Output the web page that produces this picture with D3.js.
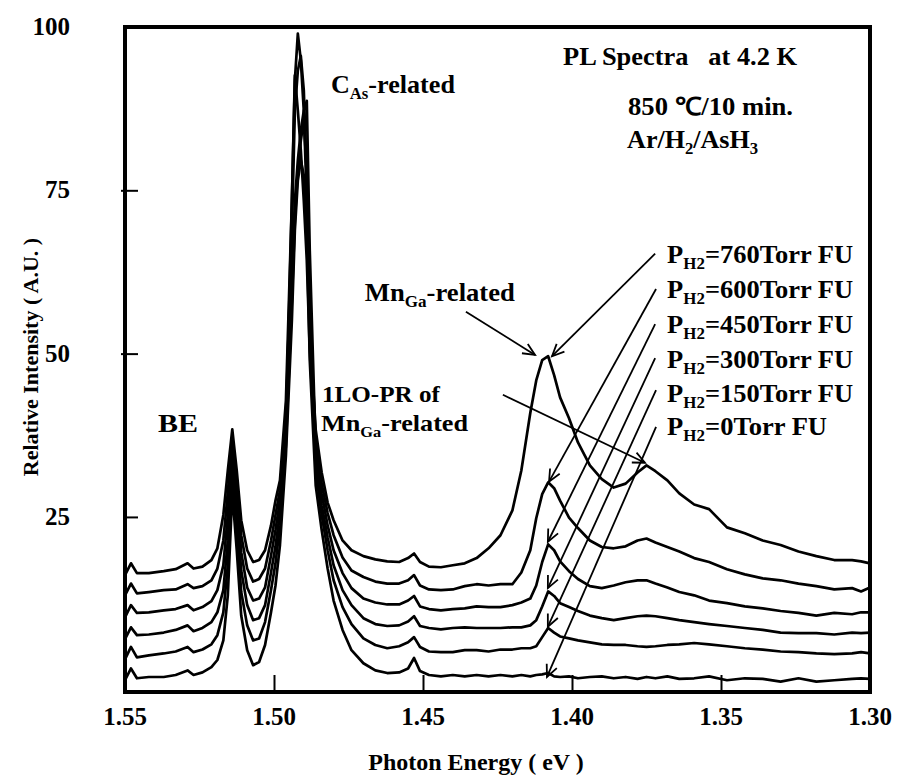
<!DOCTYPE html>
<html><head><meta charset="utf-8">
<script src="https://cdn.jsdelivr.net/npm/d3@7"></script>
<style>
body{margin:0;background:#fff}
text{font-family:"Liberation Serif","Times New Roman",serif;font-weight:bold;fill:#000}
</style>
</head><body>
<svg id="chart" width="897" height="778"></svg>
<script>
// Photon energy grid (eV)
const energy = [
 1.550,1.548,1.546,1.542,1.537,1.533,1.529,1.527,1.524,1.521,
 1.519,1.517,1.5155,1.514,1.5125,1.511,1.509,1.507,1.505,1.503,
 1.501,1.4995,1.498,1.496,1.494,1.493,1.492,1.491,1.490,1.489,
 1.488,1.486,1.484,1.482,1.480,1.477,1.474,1.470,1.466,1.462,
 1.458,1.455,1.453,1.451,1.448,1.444,1.440,1.436,1.432,1.428,
 1.424,1.420,1.417,1.414,1.412,1.410,1.408,1.406,1.404,1.401,
 1.398,1.394,1.390,1.386,1.382,1.378,1.375,1.372,1.368,1.364,
 1.359,1.354,1.348,1.342,1.336,1.330,1.324,1.318,1.312,1.306,
 1.303,1.300];

// Relative intensity of each spectrum (offset curves)
const int760 = [
 16.1,17.9,16.4,16.4,16.7,17.0,17.9,17.1,17.4,18.4,
 20.2,25.3,32.1,38.4,32.1,24.5,19.9,18.1,18.4,19.9,
 23.7,27.5,30.6,42.8,73.4,91.8,99.0,94.9,87.2,73.4,
 53.6,38.3,31.8,27.2,24.5,21.4,19.9,19.0,18.5,18.2,
 18.1,18.7,19.4,18.1,17.4,17.3,17.6,17.9,18.7,20.2,
 22.2,26.0,32.1,40.9,45.9,49.0,49.6,46.7,43.3,40.1,
 36.4,32.9,30.8,29.5,30.1,31.8,32.9,32.0,30.6,28.6,
 26.9,26.2,23.4,22.5,21.4,20.7,19.7,19.0,18.4,18.4,
 18.2,17.9];
const int600 = [
 13.0,14.8,13.3,13.5,13.8,13.9,14.7,14.1,14.4,15.3,
 17.1,21.4,28.8,36.7,30.6,22.2,17.1,15.1,15.5,17.1,
 21.4,25.3,29.1,40.5,68.9,87.2,93.3,95.6,90.3,76.5,
 55.1,36.7,30.1,25.6,22.2,18.8,16.8,15.8,15.1,14.8,
 14.8,15.3,16.1,14.5,13.9,13.8,13.9,14.4,14.7,14.5,
 14.7,14.7,16.5,19.9,24.8,28.5,30.3,29.4,27.5,24.9,
 23.3,21.4,20.4,20.2,20.5,21.4,21.7,21.1,20.4,19.7,
 18.7,18.1,17.0,16.2,15.6,15.3,14.8,14.4,13.9,14.1,
 13.6,14.2];
const int450 = [
 9.6,11.5,10.3,10.4,10.7,10.9,11.5,10.7,11.2,12.1,
 13.8,17.6,25.3,34.9,28.3,19.6,14.2,12.2,12.5,14.2,
 19.1,23.0,27.5,39.0,61.2,73.4,79.6,84.2,87.2,88.7,
 65.8,35.2,28.6,23.7,19.9,16.4,14.1,12.5,11.9,11.6,
 11.6,12.2,12.9,11.3,10.9,10.7,10.9,11.0,11.3,11.2,
 11.2,11.5,11.9,12.5,14.5,18.1,20.8,19.9,18.2,16.7,
 15.5,14.4,14.1,14.5,15.0,15.3,15.3,14.8,14.2,13.5,
 13.0,12.2,11.8,11.3,11.0,10.6,10.3,9.9,10.3,10.1,
 10.4,10.4];
const int300 = [
 6.3,8.1,6.9,7.0,7.3,7.7,8.4,7.5,8.0,8.9,
 10.4,13.8,21.4,32.9,26.0,16.8,11.5,9.2,9.5,11.5,
 16.5,20.5,25.7,37.5,73.4,92.6,87.2,81.1,73.4,64.3,
 50.5,33.7,26.8,21.9,17.6,13.8,11.5,9.5,8.6,8.3,
 8.4,9.0,9.8,8.3,8.0,7.8,8.0,8.1,8.0,8.0,
 8.0,8.1,8.1,8.4,9.2,11.3,13.6,12.9,11.8,11.2,
 10.6,9.9,9.5,9.2,9.5,9.8,9.9,9.8,9.5,9.2,
 8.9,8.6,8.3,8.0,7.7,7.3,7.2,7.2,7.0,7.3,
 7.2,7.3];
const int150 = [
 3.2,5.1,3.5,3.8,4.1,4.4,5.1,4.3,4.7,5.5,
 6.9,10.4,17.6,30.9,23.0,13.5,8.4,6.1,6.4,8.9,
 13.8,17.9,23.7,36.0,58.1,70.4,78.0,82.6,85.7,78.0,
 53.6,32.1,25.3,19.9,15.3,11.2,8.6,6.4,5.4,4.9,
 5.2,5.8,6.6,5.1,4.4,4.3,4.3,4.6,4.6,4.4,
 4.7,4.7,4.9,4.9,5.2,6.6,8.0,7.3,6.7,6.4,
 6.1,5.8,5.5,5.4,5.4,5.2,5.1,5.2,5.4,5.5,
 5.7,5.5,5.2,4.9,4.7,4.4,4.3,4.1,4.0,4.1,
 4.3,4.1];
const int0 = [
 0.0,1.8,0.3,0.5,0.5,0.8,1.5,0.8,1.2,2.0,
 3.1,6.1,13.0,28.8,19.9,9.9,4.6,2.3,2.8,5.4,
 10.4,14.5,20.7,34.4,55.1,68.9,76.5,79.6,77.3,68.9,
 49.0,29.8,23.0,17.1,12.2,7.7,4.6,2.6,1.5,1.1,
 1.2,1.8,3.4,1.4,0.8,0.6,0.8,0.6,0.8,0.6,
 0.8,0.6,0.8,0.6,0.8,0.9,1.1,0.6,0.5,0.6,
 0.3,0.5,0.6,0.3,0.5,0.2,0.5,0.3,0.6,0.2,
 0.3,0.6,0.0,0.3,0.2,-0.2,0.3,-0.2,0.0,0.2,
 0.3,0.2];

const pressures = ["760","600","450","300","150","0"];
const spectra = [int760,int600,int450,int300,int150,int0];

const xTicks = [1.55,1.50,1.45,1.40,1.35,1.30];
const xTickLabels = ["1.55","1.50","1.45","1.40","1.35","1.30"];
const yTicks = [25,50,75,100];
const yTickLabels = ["25","50","75","100"];

// arrow start/end points in data units [energy, intensity]
const arrowFrom = [[1.4356,56.4],[1.3721,65.3],[1.3718,59.9],[1.3721,54.5],[1.3721,49.3],[1.3718,44.4],[1.3718,38.8],[1.4232,43.7]];
const arrowTo   = [[1.4124,49.8],[1.4067,49.6],[1.4077,30.4],[1.4081,21.2],[1.4081,14.1],[1.4081,8.2],[1.4084,0.5],[1.3755,33.3]];
// legend label anchors (energy, intensity)
const legendE = 1.3681;
const legendI = [63.9,58.5,53.2,47.8,42.6,37.6];

const x = d3.scaleLinear().domain([1.55,1.30]).range([125,870]);
const y = d3.scaleLinear().domain([-1.8,100]).range([692,27]);
const svg = d3.select("#chart");

// traces
const line = d3.line().x((d,i)=>x(energy[i])).y(d=>y(d));
svg.append("g").selectAll("path").data(spectra).join("path")
  .attr("d",d=>line(d)).attr("fill","none").attr("stroke","#000")
  .attr("stroke-width",2.7).attr("stroke-linejoin","round");

// frame
svg.append("rect").attr("x",x(1.55)).attr("y",y(100)).attr("width",x(1.30)-x(1.55)).attr("height",y(-1.8)-y(100))
  .attr("fill","none").attr("stroke","#000").attr("stroke-width",4);

// axes (inward ticks)
const xAxis = d3.axisBottom(x).tickValues(xTicks.slice(1,-1)).tickSize(-17).tickFormat("");
const gx = svg.append("g").attr("transform",`translate(0,${y(-1.8)})`).call(xAxis);
gx.select(".domain").remove();
gx.selectAll(".tick line").attr("stroke","#000").attr("stroke-width",2);
const yAxis = d3.axisLeft(y).tickValues([25,50,75]).tickSize(-13).tickFormat("");
const gy = svg.append("g").attr("transform",`translate(${x(1.55)},0)`).call(yAxis);
gy.select(".domain").remove();
gy.selectAll(".tick line").attr("stroke","#000").attr("stroke-width",2).attr("x1",d=>d===25?0:-4);

// tick labels
svg.append("g").selectAll("text").data(xTicks).join("text")
  .attr("x",d=>x(d)).attr("y",725).attr("text-anchor","middle").style("font-size","25px")
  .text((d,i)=>xTickLabels[i]);
svg.append("g").selectAll("text").data(yTicks).join("text")
  .attr("x",70).attr("y",d=>y(d)+8).attr("text-anchor","end").style("font-size","25px")
  .text((d,i)=>yTickLabels[i]);

// axis titles
svg.append("text").attr("x",476).attr("y",770).attr("text-anchor","middle").style("font-size","24px").text("Photon Energy ( eV )");
svg.append("text").attr("transform","translate(38,357) rotate(-90)").attr("text-anchor","middle").style("font-size","22px").text("Relative Intensity ( A.U. )");

// arrows
const defs = svg.append("defs");
defs.append("marker").attr("id","ah").attr("markerUnits","userSpaceOnUse").attr("markerWidth",20).attr("markerHeight",20)
  .attr("refX",0).attr("refY",0).attr("viewBox","-14 -10 20 20").attr("orient","auto")
  .append("path").attr("d","M-12,-5.5 L0,0 L-12,5.5").attr("fill","none").attr("stroke","#000").attr("stroke-width",1.8);
svg.append("g").selectAll("line").data(arrowFrom).join("line")
  .attr("x1",d=>x(d[0])).attr("y1",d=>y(d[1]))
  .attr("x2",(d,i)=>x(arrowTo[i][0])).attr("y2",(d,i)=>y(arrowTo[i][1]))
  .attr("stroke","#000").attr("stroke-width",1.8).attr("marker-end","url(#ah)");

// annotation text helper: parts are strings or {sub:"..."}
function label(e, v, parts, size, len){
  const t = svg.append("text").attr("x",x(e)).attr("y",y(v)).style("font-size",size+"px");
  let shift = 0;
  parts.forEach(p=>{
    if(typeof p === "object"){
      t.append("tspan").attr("dy",6).style("font-size",Math.round(size*0.62)+"px").text(p.sub);
      shift = -6;
    } else {
      const s = t.append("tspan").text(p);
      if(shift){ s.attr("dy",shift); shift = 0; }
    }
  });
  if(len) t.attr("textLength",len).attr("lengthAdjust","spacingAndGlyphs");
  return t;
}
label(1.403,94.2,["PL Spectra\u00a0\u00a0 at 4.2 K"],25,234);
label(1.3812,86.5,["850 \u2103/10 min."],25,165);
label(1.3815,81.5,["Ar/H",{sub:"2"},"/AsH",{sub:"3"}],25,131);
label(1.4809,89.9,["C",{sub:"As"},"-related"],25,124);
label(1.5389,38.0,["BE"],26,40);
label(1.4695,58.1,["Mn",{sub:"Ga"},"-related"],25,150);
label(1.4839,42.6,["1LO-PR of"],24,118);
label(1.4842,38.2,["Mn",{sub:"Ga"},"-related"],24,147);
legendI.forEach((v,i)=>{
  label(legendE,v,["P",{sub:"H2"},"="+pressures[i]+"Torr FU"],25, i===5?160:186);
});
</script>
</body></html>
